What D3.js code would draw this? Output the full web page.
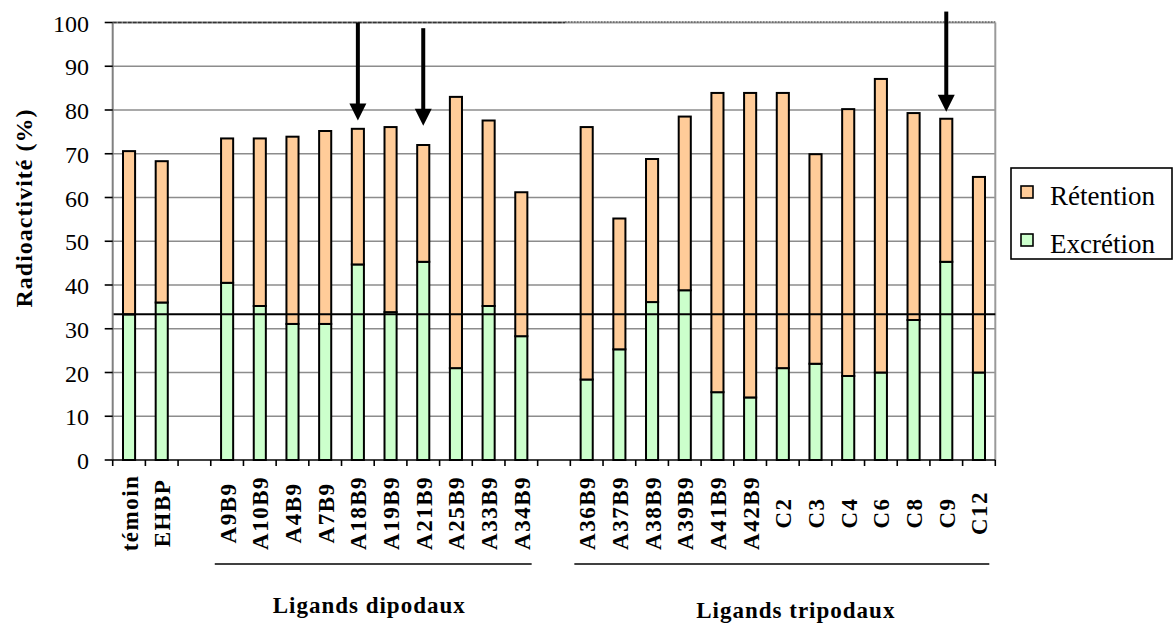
<!DOCTYPE html>
<html>
<head>
<meta charset="utf-8">
<script src="https://cdn.jsdelivr.net/npm/d3@7"></script>
<style>
  svg text { font-family: "Liberation Serif" !important; }
</style>
</head>
<body style="margin:0">
<svg id="chart" width="1173" height="623" font-family="Liberation Serif" style="font-family: 'Liberation Serif'"></svg>
<script>
// Categories along the x axis (empty strings are spacer slots between groups)
const categories = ["témoin","EHBP","","A9B9","A10B9","A4B9","A7B9","A18B9","A19B9","A21B9","A25B9","A33B9","A34B9","","A36B9","A37B9","A38B9","A39B9","A41B9","A42B9","C2","C3","C4","C6","C8","C9","C12"];

// Excretion (%) — lower segment of each bar
const excretion = [33.3,36.0,null,40.5,35.2,31.1,31.1,44.7,33.8,45.3,21.0,35.2,28.3,null,18.4,25.3,36.1,38.8,15.5,14.3,21.0,22.0,19.2,20.0,32.0,45.3,20.0];

// Retention (%) — upper segment stacked on excretion
const retention = [37.3,32.3,null,33.0,38.3,42.8,44.1,31.0,42.3,26.7,62.0,42.4,32.9,null,57.7,29.9,32.7,39.7,68.4,69.6,62.9,47.9,61.0,67.1,47.3,32.7,44.7];

const yTicks = [0,10,20,30,40,50,60,70,80,90,100];
const referenceLevel = 33.3;

// Highlighted compounds: arrow from `from` down to `to` (in %)
const arrowCats = ["A18B9","A21B9","C9"];
const arrowFrom = [100, 98.7, 102.5];
const arrowTo   = [77.6, 76.4, 79.6];

// Group labels with first and last member
const groupLabels = ["Ligands dipodaux","Ligands tripodaux"];
const groupFirst  = ["A9B9","A36B9"];
const groupLast   = ["A34B9","C12"];

const seriesNames  = ["Rétention","Excrétion"];
const seriesColors = {"Rétention": "#FFCC99", "Excrétion": "#CCFFCC"};

const FONT = "Liberation Serif";

const svg = d3.select("#chart");
const L = 112.7, R = 995.3, T = 22.5, B = 460;

const x = d3.scaleBand()
  .domain(d3.range(categories.length))
  .range([L, R])
  .paddingInner(0.63)
  .paddingOuter(0.315);
const step = x.step();
const cx = i => x(i) + x.bandwidth() / 2;

const y = d3.scaleLinear().domain([0, 100]).range([B, T]);

// Text helper: serif font set both as attribute and inline style
function label(sel, size, bold) {
  return sel.attr("font-family", FONT).style("font-family", FONT)
    .attr("font-size", size).attr("font-weight", bold ? "bold" : "normal")
    .attr("fill", "#000");
}

// Gridlines
svg.append("g").selectAll("line")
  .data(yTicks.filter(v => v > 0 && v < 100))
  .join("line")
  .attr("x1", L).attr("x2", R)
  .attr("y1", d => y(d)).attr("y2", d => y(d))
  .attr("stroke", "#8c8c8c").attr("stroke-width", 1.6);

// Top border (100 %) drawn dotted
svg.append("line").attr("x1", L).attr("x2", R).attr("y1", y(100)).attr("y2", y(100))
  .attr("stroke", "#9a9a9a").attr("stroke-width", 2);
svg.append("line").attr("x1", L).attr("x2", 565).attr("y1", y(100)).attr("y2", y(100))
  .attr("stroke", "#333").attr("stroke-width", 1.6).attr("stroke-dasharray", "4,1");
svg.append("line").attr("x1", 565).attr("x2", R).attr("y1", y(100) - 0.5).attr("y2", y(100) - 0.5)
  .attr("stroke", "#444").attr("stroke-width", 1.2).attr("stroke-dasharray", "1.5,1.5");

// Right border
svg.append("line").attr("x1", R).attr("x2", R).attr("y1", T).attr("y2", B)
  .attr("stroke", "#9a9a9a").attr("stroke-width", 2);

// Stacked bars
const table = categories.map((c, i) => ({ idx: i, "Excrétion": excretion[i] || 0, "Rétention": retention[i] || 0, blank: excretion[i] == null }));
const stacked = d3.stack().keys(["Excrétion", "Rétention"])(table);

svg.append("g").selectAll("g")
  .data(stacked)
  .join("g")
  .attr("fill", d => seriesColors[d.key])
  .selectAll("rect")
  .data(d => d.filter(p => !p.data.blank))
  .join("rect")
  .attr("x", d => x(d.data.idx))
  .attr("width", x.bandwidth())
  .attr("y", d => y(d[1]))
  .attr("height", d => y(d[0]) - y(d[1]))
  .attr("stroke", "#000").attr("stroke-width", 2);

// Reference line at one third
svg.append("line").attr("x1", L).attr("x2", R)
  .attr("y1", y(referenceLevel)).attr("y2", y(referenceLevel))
  .attr("stroke", "#000").attr("stroke-width", 2);

// Y axis
svg.append("line").attr("x1", L).attr("x2", L).attr("y1", T).attr("y2", B)
  .attr("stroke", "#808080").attr("stroke-width", 2);
const yAxis = svg.append("g");
yAxis.selectAll("line").data(yTicks).join("line")
  .attr("x1", L - 8).attr("x2", L).attr("y1", d => y(d)).attr("y2", d => y(d))
  .attr("stroke", "#000").attr("stroke-width", 1.6);
label(yAxis.selectAll("text").data(yTicks).join("text"), 24, false)
  .attr("x", 89).attr("y", d => y(d) + 9)
  .attr("text-anchor", "end")
  .text(d => d);

// X axis
svg.append("line").attr("x1", L).attr("x2", R).attr("y1", B).attr("y2", B)
  .attr("stroke", "#000").attr("stroke-width", 1.6);
svg.append("g").selectAll("line")
  .data(d3.range(categories.length + 1))
  .join("line")
  .attr("x1", i => L + i * step).attr("x2", i => L + i * step)
  .attr("y1", B).attr("y2", B + 6)
  .attr("stroke", "#000").attr("stroke-width", 1.6);

label(svg.append("g").selectAll("text")
  .data(categories.map((c, i) => ({ c, i })).filter(d => d.c))
  .join("text"), 23, true)
  .attr("transform", d => `translate(${cx(d.i) + 8.5},513) rotate(-90)`)
  .attr("text-anchor", "middle")
  .attr("letter-spacing", 1.5)
  .text(d => d.c);

// Y axis title
label(svg.append("text"), 24, true)
  .attr("transform", "translate(32,208) rotate(-90)")
  .attr("text-anchor", "middle")
  .attr("letter-spacing", 1)
  .text("Radioactivité (%)");

// Group underlines and captions
const catIndex = c => categories.indexOf(c);
const groupOffsets = [-4, 14];
groupLabels.forEach((g, k) => {
  const x0 = L + catIndex(groupFirst[k]) * step + 4;
  const x1 = L + (catIndex(groupLast[k]) + 1) * step - 6;
  svg.append("line").attr("x1", x0).attr("x2", x1)
    .attr("y1", 564).attr("y2", 564)
    .attr("stroke", "#000").attr("stroke-width", 1.6);
  label(svg.append("text"), 23, true)
    .attr("x", (x0 + x1) / 2 + groupOffsets[k])
    .attr("y", k === 0 ? 613 : 618)
    .attr("text-anchor", "middle")
    .attr("letter-spacing", 1)
    .text(g);
});

// Arrows marking selected compounds
const headH = 17, headW = 17;
arrowCats.forEach((c, k) => {
  const ax = cx(catIndex(c));
  const yTip = y(arrowTo[k]);
  svg.append("line")
    .attr("x1", ax).attr("x2", ax)
    .attr("y1", y(arrowFrom[k])).attr("y2", yTip - headH + 2)
    .attr("stroke", "#000").attr("stroke-width", 4);
  svg.append("path")
    .attr("d", `M${ax - headW / 2},${yTip - headH} L${ax + headW / 2},${yTip - headH} L${ax},${yTip} Z`)
    .attr("fill", "#000");
});

// Legend
const lg = svg.append("g");
lg.append("rect").attr("x", 1011).attr("y", 168).attr("width", 161).attr("height", 91)
  .attr("fill", "#fff").attr("stroke", "#000").attr("stroke-width", 1.6);
seriesNames.forEach((s, k) => {
  const yy = 186 + k * 48;
  lg.append("rect").attr("x", 1021).attr("y", yy).attr("width", 12).attr("height", 12)
    .attr("fill", seriesColors[s]).attr("stroke", "#000").attr("stroke-width", 1.6);
  label(lg.append("text"), 27, false)
    .attr("x", 1050).attr("y", yy + 19)
    .text(s);
});
</script>
</body>
</html>
